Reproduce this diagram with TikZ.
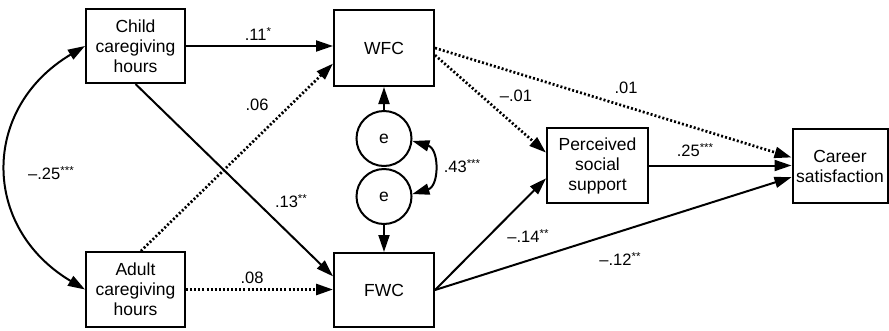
\documentclass[tikz,border=0pt]{standalone}
\usepackage{fontspec}
\setmainfont{Liberation Sans}
\usetikzlibrary{arrows.meta,calc}

% significance stars, set raised and a little smaller than the coefficient
\newcommand{\sigstars}[1]{\raisebox{5pt}{\fontsize{11.5}{11.5}\selectfont #1}}

\tikzset{
  var/.style={draw, line width=2pt, align=center, inner sep=0pt,
    font=\fontsize{17.5}{20}\selectfont},
  err/.style={draw, circle, line width=2pt, minimum size=55pt, inner sep=0pt,
    font=\fontsize{17.5}{20}\selectfont},
  coef/.style={font=\fontsize{16.5}{18}\selectfont, inner sep=1pt},
  path/.style={line width=2pt, -{Triangle[length=17pt,width=11pt]}},
  ns/.style={path, line width=2.7pt, dash pattern=on 2pt off 2.1pt},
  cov/.style={line width=2pt, {Triangle[length=17pt,width=11pt]}-{Triangle[length=17pt,width=11pt]}}
}

\begin{document}
\begin{tikzpicture}[x=1pt,y=-1pt]
\useasboundingbox (0,0) rectangle (889,330);

% observed variables
\node[var, minimum width=99pt, minimum height=74pt] (child) at (135.5,46) {Child\\caregiving\\hours};
\node[var, minimum width=99pt, minimum height=75pt] (adult) at (135.5,289.5) {Adult\\caregiving\\hours};
\node[var, minimum width=100pt, minimum height=76pt] (wfc) at (384,48) {WFC};
\node[var, minimum width=100pt, minimum height=74pt] (fwc) at (384,290) {FWC};
\node[var, minimum width=101pt, minimum height=75pt] (pss) at (597.5,165.5) {Perceived\\social\\support};
\node[var, minimum width=95pt, minimum height=74pt] (career) at (840,166) {Career\\satisfaction};

% disturbances
\node[err] (e1) at (384,138.5) {e};
\node[err] (e2) at (384,196.5) {e};

% covariances
\draw[cov] (child.west) .. controls +(-104,62) and +(-104,-62) .. (adult.west);
\draw[cov] (e1.-5) .. controls +(27,8) and +(27,-8) .. (e2.5);

% structural paths
\draw[path] (child.east) -- (child.east -| wfc.west);
\draw[path] (child.south) -- (fwc.165);
\draw[ns] (adult.82) -- (wfc.197);
\draw[ns] (adult.east) -- (adult.east -| fwc.west);
\draw[path] (e1.north) -- (wfc.south);
\draw[path] (e2.south) -- (fwc.north);
\draw[ns] (wfc.-8) -- (pss.166);
\draw[ns] (wfc.0) -- (career.170);
\draw[path] (pss.east) -- (pss.east -| career.west);
\draw[path] (fwc.east) -- (pss.194);
\draw[path] (fwc.east) -- (career.193);

% coefficients
\node[coef] (c1) at (258,34) {.11\sigstars{*}};
\node[coef] (c2) at (257,105) {.06};
\node[coef] (c3) at (291,201) {.13\sigstars{**}};
\node[coef] (c4) at (252,278) {.08};
\node[coef] (c5) at (51,173) {–.25\sigstars{***}};
\node[coef] (c6) at (462,166) {.43\sigstars{***}};
\node[coef] (c7) at (516,96) {–.01};
\node[coef] (c8) at (626,88) {.01};
\node[coef] (c9) at (695,150) {.25\sigstars{***}};
\node[coef] (c10) at (528,236) {–.14\sigstars{**}};
\node[coef] (c11) at (620,259) {–.12\sigstars{**}};
\end{tikzpicture}
\end{document}
